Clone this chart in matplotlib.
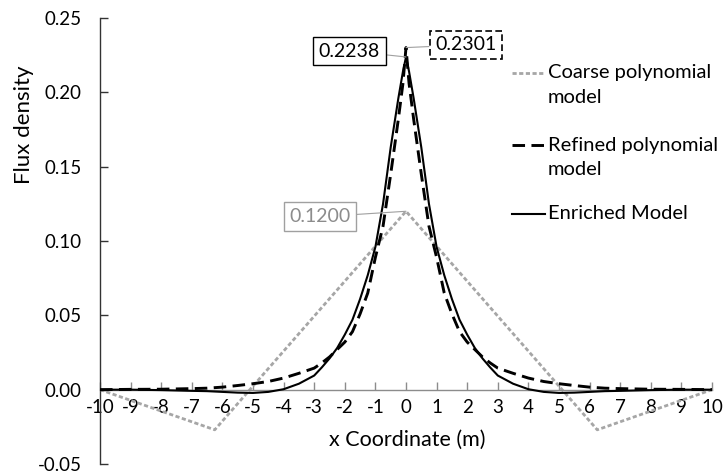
import matplotlib
matplotlib.use("Agg")
import matplotlib.pyplot as plt
from matplotlib.lines import Line2D

# ---- data ----
x_coarse = [-10, -6.25, 0, 6.25, 10]
y_coarse = [0.0, -0.027, 0.12, -0.027, 0.0]

x_half = [10, 9, 8, 7, 6.5, 6, 5.5, 5, 4.5, 4, 3.5, 3, 2.75, 2.5, 2.25, 2, 1.75,
          1.5, 1.25, 1, 0.75, 0.5, 0.25, 0.1]
refined_half = [0.0, 0.0002, 0.0003, 0.0007, 0.001, 0.0017, 0.0028, 0.004, 0.0055,
                0.0078, 0.011, 0.0145, 0.018, 0.022, 0.027, 0.032, 0.039,
                0.051, 0.065, 0.089, 0.110, 0.145, 0.182, 0.206]
enriched_half = [0.0, 0.0, -0.0003, -0.0008, -0.001, -0.0015, -0.002, -0.0022, -0.0015,
                 0.0003, 0.004, 0.0095, 0.015, 0.021, 0.028, 0.037, 0.047,
                 0.061, 0.077, 0.096, 0.125, 0.163, 0.196, 0.214]
refined_peak = 0.2301
enriched_peak = 0.2238
coarse_peak = 0.12

x_fine = [-v for v in x_half] + [0] + x_half[::-1]
y_refined = refined_half + [refined_peak] + refined_half[::-1]
y_enriched = enriched_half + [enriched_peak] + enriched_half[::-1]

x_ticks = list(range(-10, 11))
y_ticks = [-0.05, 0.0, 0.05, 0.10, 0.15, 0.20, 0.25]

labels = ["Coarse polynomial\nmodel", "Refined polynomial\nmodel", "Enriched Model"]

# ---- style ----
FONT = "Lato"
plt.rcParams["font.family"] = [FONT, "DejaVu Sans"]

fig = plt.figure(figsize=(7.25, 4.75), dpi=100)
ax = fig.add_axes([100/725, 1-464/475, 612/725, 446/475])

c_coarse = "#A6A6A6"
ax.plot(x_coarse, y_coarse, color=c_coarse, lw=2.0, dashes=(1.5, 0.9), zorder=2)
ax.plot(x_fine, y_refined, color="black", lw=2.1, dashes=(4.3, 2.2), zorder=3)
ax.plot(x_fine, y_enriched, color="black", lw=1.5, zorder=4)

ax.set_xlim(-10, 10)
ax.set_ylim(-0.05, 0.25)
ax.set_xticks(x_ticks)
ax.set_xticklabels([str(t) for t in x_ticks])
ax.set_yticks(y_ticks)
ax.set_yticklabels([f"{t:.2f}" for t in y_ticks])

for s in ["top", "right"]:
    ax.spines[s].set_visible(False)
ax.spines["bottom"].set_position(("data", 0))
ax.spines["bottom"].set_color("#8c8c8c")
ax.spines["bottom"].set_linewidth(1.0)
ax.spines["left"].set_color("#333333")
ax.spines["left"].set_linewidth(1.0)

ax.tick_params(axis="x", direction="in", length=6, width=1, color="#8c8c8c",
               labelsize=13.5, pad=7, labelcolor="black")
ax.tick_params(axis="y", direction="in", length=6, width=1, color="#333333",
               labelsize=13.5, pad=13, labelcolor="black")

ax.set_ylabel("Flux density", fontsize=16)
ax.yaxis.set_label_coords(-0.124, 0.76)
ax.yaxis.label.set_va("center")
ax.set_xlabel("x Coordinate (m)", fontsize=15.5)
ax.xaxis.set_label_coords(0.502, 0.054)
ax.xaxis.label.set_va("center")

# ---- annotations ----
arrow = dict(arrowstyle="-", color="#A0A0A0", lw=0.8, shrinkA=0, shrinkB=0)
ax.annotate(f"{enriched_peak:.4f}", xy=(0, enriched_peak), xytext=(-1.86, 0.2278),
            ha="center", va="center", fontsize=14, color="black",
            bbox=dict(boxstyle="square,pad=0.3", fc="white", ec="black", lw=1.0),
            arrowprops=arrow, zorder=6)
ax.annotate(f"{refined_peak:.4f}", xy=(0, refined_peak), xytext=(1.96, 0.2319),
            ha="center", va="center", fontsize=14, color="black",
            bbox=dict(boxstyle="square,pad=0.3", fc="white", ec="black", lw=1.2, ls=(0, (4, 2))),
            arrowprops=arrow, zorder=6)
ax.annotate(f"{coarse_peak:.4f}", xy=(0, coarse_peak), xytext=(-2.81, 0.1163),
            ha="center", va="center", fontsize=14, color="#8c8c8c",
            bbox=dict(boxstyle="square,pad=0.3", fc="white", ec="#A0A0A0", lw=1.0),
            arrowprops=arrow, zorder=6)

# ---- legend (manual, handles aligned with first line) ----
styles = [dict(color=c_coarse, lw=2.0, dashes=(1.5, 0.9)),
          dict(color="black", lw=2.1, dashes=(4.3, 2.2)),
          dict(color="black", lw=1.5)]
ys = [0.877, 0.715, 0.561]
hx0, hx1, tx = 0.673, 0.727, 0.732
for lab, st, yy in zip(labels, styles, ys):
    ax.add_line(Line2D([hx0, hx1], [yy, yy], transform=ax.transAxes, **st))
    for i, line in enumerate(lab.split("\n")):
        ax.text(tx, yy - i*0.055, line, transform=ax.transAxes, fontsize=14.5,
                ha="left", va="center", color="black")

fig.savefig("out.png", dpi=100)
